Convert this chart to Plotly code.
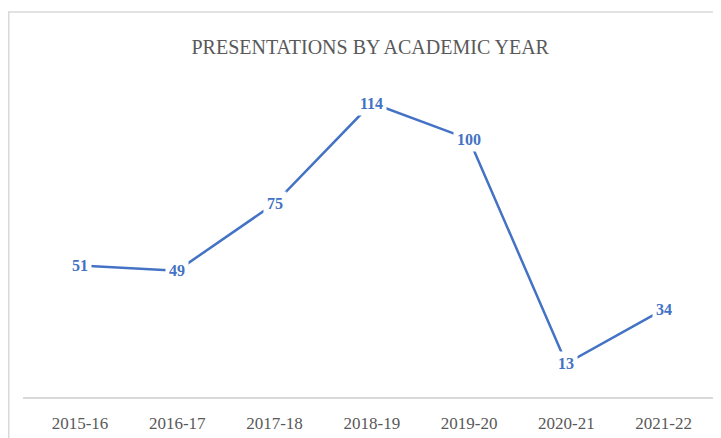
import plotly.graph_objects as go

# ==========================================================
# DATA
# ==========================================================
years = ["2015-16", "2016-17", "2017-18", "2018-19", "2019-20", "2020-21", "2021-22"]
presentations = [51, 49, 75, 114, 100, 13, 34]

line_color = "#4472C4"
text_color = "#595959"
font_family = "Liberation Serif, DejaVu Serif, serif"

# ==========================================================
# LINE
# ==========================================================
fig = go.Figure()

fig.add_trace(
    go.Scatter(
        x=years,
        y=presentations,
        mode="lines",
        line=dict(color=line_color, width=2.5),
        hoverinfo="skip",
        showlegend=False
    )
)

# value labels with white boxes that cut the line, like Excel
for year, value in zip(years, presentations):
    fig.add_annotation(
        x=year,
        y=value,
        text=str(value),
        showarrow=False,
        bgcolor="white",
        borderpad=3,
        font=dict(family=font_family, size=16, color=line_color, weight="bold")
    )

# chart border (page body adds an 8px offset)
fig.add_shape(
    type="rect",
    xref="paper",
    yref="paper",
    x0=-0.0204,
    x1=1.2,
    y0=-0.5,
    y1=1.0665,
    line=dict(color="#D9D9D9", width=1.5),
    fillcolor="rgba(0,0,0,0)",
    layer="below"
)

fig.update_layout(
    width=713,
    height=430,
    margin=dict(l=15, r=0, t=28, b=41),
    paper_bgcolor="white",
    plot_bgcolor="white",
    title=dict(
        text="PRESENTATIONS BY ACADEMIC YEAR",
        x=0.508,
        xanchor="center",
        y=0.909,
        yanchor="middle",
        font=dict(family=font_family, size=20, color=text_color)
    ),
    xaxis=dict(
        type="category",
        range=[-0.586, 6.59],
        showgrid=False,
        zeroline=False,
        showline=True,
        linecolor="#D9D9D9",
        linewidth=1.5,
        ticks="",
        ticklabelstandoff=10,
        tickfont=dict(family=font_family, size=17, color=text_color)
    ),
    yaxis=dict(
        range=[0, 140],
        showgrid=False,
        zeroline=False,
        showticklabels=False,
        showline=False
    )
)

fig.write_html("out.html")
